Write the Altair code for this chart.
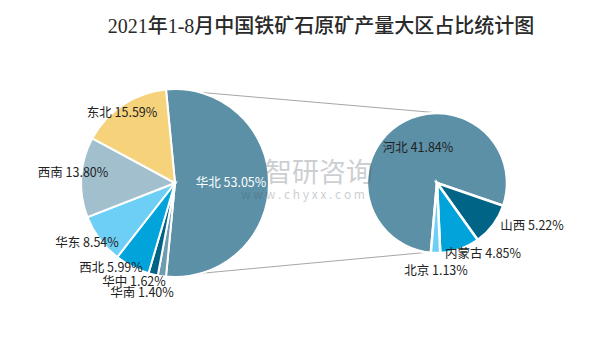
import math
import altair as alt
import pandas as pd

# ---------------- data ----------------
title_text = "2021年1-8月中国铁矿石原矿产量大区占比统计图"

regions = ["华北", "华南", "华中", "西北", "华东", "西南", "东北"]
region_pct = [53.05, 1.40, 1.62, 5.99, 8.54, 13.80, 15.59]

provinces = ["河北", "山西", "内蒙古", "北京"]
province_pct = [41.84, 5.22, 4.85, 1.13]

# ---------------- styles / layout ----------------
region_colors = ["#5B90A6", "#6E9CB0", "#006486", "#00A3DA", "#6DCFF5", "#A1BFCD", "#F6D37B"]
province_colors = ["#5B90A6", "#006486", "#00A3DA", "#6DCFF5"]
region_label_colors = ["white"] + ["#222222"] * 6
province_label_colors = ["#222222"] * 4

W, H = 590, 348
OFF = 8
L_CX, L_CY, L_R = 175 - OFF, 183 - OFF, 94
R_CX, R_CY, R_R = 437 - OFF, 183 - OFF, 70

# label centre offsets from each pie centre (pixels)
region_label_off = [(56, 0), (-33, 110), (-41, 99), (-64, 85), (-88, 60), (-102, -10), (-53, -70)]
province_label_off = [(-19, -35), (95, 43), (46, 71), (-1, 88)]

# rotations: 华北 centred on the right; 河北 ends just below 3 o'clock
l_start = math.pi / 2 - math.pi * region_pct[0] / sum(region_pct)
r_start = math.radians(109) - 2 * math.pi * province_pct[0] / sum(province_pct)

FONT = "Noto Sans CJK SC"

# ---------------- tables ----------------
left_df = pd.DataFrame({"name": regions, "pct": region_pct, "idx": list(range(len(regions)))})
right_df = pd.DataFrame({"name": provinces, "pct": province_pct, "idx": list(range(len(provinces)))})

left_lab = pd.DataFrame({
    "label": [f"{n} {p:.2f}%" for n, p in zip(regions, region_pct)],
    "lx": [L_CX + dx for dx, dy in region_label_off],
    "ly": [L_CY + dy for dx, dy in region_label_off],
    "tc": region_label_colors,
})
right_lab = pd.DataFrame({
    "label": [f"{n} {p:.2f}%" for n, p in zip(provinces, province_pct)],
    "lx": [R_CX + dx for dx, dy in province_label_off],
    "ly": [R_CY + dy for dx, dy in province_label_off],
    "tc": province_label_colors,
})
labels_df = pd.concat([left_lab, right_lab], ignore_index=True)

# connector lines: edges of 华北 slice to top / bottom of right pie
a_top = l_start
a_bot = l_start + 2 * math.pi * region_pct[0] / sum(region_pct)
b_top = math.radians(3)
b_bot = math.radians(188)
lines_df = pd.DataFrame({
    "x": [L_CX + L_R * math.sin(a_top), L_CX + L_R * math.sin(a_bot)],
    "y": [L_CY - L_R * math.cos(a_top), L_CY - L_R * math.cos(a_bot)],
    "x2": [R_CX + R_R * math.sin(b_top), R_CX + R_R * math.sin(b_bot)],
    "y2": [R_CY - R_R * math.cos(b_top), R_CY - R_R * math.cos(b_bot)],
})

# ---------------- layers ----------------
rules = alt.Chart(lines_df).mark_rule(color="#A6A6A6", strokeWidth=1).encode(
    x=alt.X("x:Q", scale=None, axis=None),
    y=alt.Y("y:Q", scale=None, axis=None),
    x2="x2:Q",
    y2="y2:Q",
)

left_arc = alt.Chart(left_df).mark_arc(
    x=L_CX, y=L_CY, outerRadius=L_R, stroke="white", strokeWidth=2
).encode(
    theta=alt.Theta("pct:Q", stack=True, scale=alt.Scale(range=[l_start, l_start + 2 * math.pi])),
    color=alt.Color("name:N", scale=alt.Scale(domain=regions, range=region_colors), legend=None),
    order=alt.Order("idx:Q"),
)

right_arc = alt.Chart(right_df).mark_arc(
    x=R_CX, y=R_CY, outerRadius=R_R, stroke="white", strokeWidth=2.5
).encode(
    theta=alt.Theta("pct:Q", stack=True, scale=alt.Scale(range=[r_start, r_start + 2 * math.pi])),
    color=alt.Color("name:N", scale=alt.Scale(domain=provinces, range=province_colors), legend=None),
    order=alt.Order("idx:Q"),
)

labels = alt.Chart(labels_df).mark_text(
    font=FONT, fontSize=12.5, align="center", baseline="middle"
).encode(
    x=alt.X("lx:Q", scale=None, axis=None),
    y=alt.Y("ly:Q", scale=None, axis=None),
    text="label:N",
    color=alt.Color("tc:N", scale=None),
)

wm_df = pd.DataFrame({
    "t": ["智研咨询", "w w w . c h y x x . c o m"],
    "wx": [319 - OFF, 303 - OFF],
    "wy": [174 - OFF, 195 - OFF],
    "fs": [27, 12],
})
watermark = alt.Chart(wm_df).mark_text(
    font=FONT, align="center", baseline="middle", color="#4A5560", opacity=0.28
).encode(
    x=alt.X("wx:Q", scale=None, axis=None),
    y=alt.Y("wy:Q", scale=None, axis=None),
    text="t:N",
    size=alt.Size("fs:Q", scale=None, legend=None),
)

title_df = pd.DataFrame({"t": [title_text], "tx": [321 - OFF], "ty": [27 - OFF]})
title = alt.Chart(title_df).mark_text(
    font="Liberation Serif, " + FONT, fontSize=20, fontWeight=500,
    align="center", baseline="middle", color="#2A2A2A"
).encode(
    x=alt.X("tx:Q", scale=None, axis=None),
    y=alt.Y("ty:Q", scale=None, axis=None),
    text="t:N",
)

chart = alt.layer(rules, left_arc, right_arc, watermark, labels, title).resolve_scale(
    color="independent", theta="independent"
).properties(
    width=W, height=H, autosize="none", padding=0, background="white"
).configure_view(stroke=None)

chart.save("out.html", embed_options={"renderer": "svg", "actions": False})
